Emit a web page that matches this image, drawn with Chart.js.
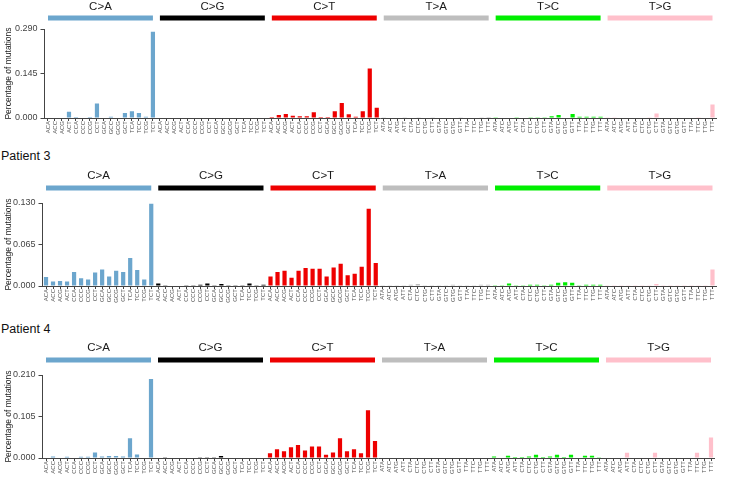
<!DOCTYPE html>
<html>
<head>
<meta charset="utf-8">
<script src="https://cdn.jsdelivr.net/npm/chart.js@4.4.0/dist/chart.umd.min.js"></script>
<style>
    body { margin: 0; background: #fff; }
    #wrap { position: relative; width: 730px; height: 481px; overflow: hidden; font-family: "Liberation Sans", Arial, sans-serif; }
    canvas { position: absolute; left: 0; }
    .title { position: absolute; left: 1px; font-size: 12.5px; color: #111; }
</style>
</head>
<body>
<div id="wrap">
    <canvas id="panel1" width="730" height="140" style="top:0px"></canvas>
    <div class="title" style="top:149px">Patient 3</div>
    <canvas id="panel2" width="730" height="140" style="top:168px"></canvas>
    <div class="title" style="top:322px">Patient 4</div>
    <canvas id="panel3" width="730" height="141" style="top:339px"></canvas>
</div>
<script>
// Mutation types and their colours
const mutationTypes = ['C>A', 'C>G', 'C>T', 'T>A', 'T>C', 'T>G'];
const typeColors = ['#6CA6CD', '#000000', '#EE0000', '#BEBEBE', '#00EE00', '#FFC0CB'];

// Trinucleotide contexts (16 per mutation type)
const cContexts = ['ACA','ACC','ACG','ACT','CCA','CCC','CCG','CCT','GCA','GCC','GCG','GCT','TCA','TCC','TCG','TCT'];
const tContexts = ['ATA','ATC','ATG','ATT','CTA','CTC','CTG','CTT','GTA','GTC','GTG','GTT','TTA','TTC','TTG','TTT'];
const tickLabels = [...cContexts, ...cContexts, ...cContexts, ...tContexts, ...tContexts, ...tContexts];

// Values, rows in order C>A, C>G, C>T, T>A, T>C, T>G
const panelTop = [
    0.000, 0.002, 0.000, 0.020, 0.003, 0.002, 0.003, 0.047, 0.000, 0.004, 0.000, 0.016, 0.022, 0.016, 0.004, 0.281,
    0, 0, 0, 0, 0, 0, 0, 0, 0, 0, 0, 0, 0, 0, 0, 0,
    0.003, 0.010, 0.013, 0.007, 0.006, 0.006, 0.019, 0.003, 0.003, 0.022, 0.049, 0.012, 0.004, 0.022, 0.161, 0.033,
    0.001, 0, 0, 0.001, 0, 0.001, 0, 0.001, 0, 0, 0, 0.001, 0, 0, 0.001, 0.003,
    0.001, 0.002, 0.002, 0.001, 0, 0.001, 0.001, 0.001, 0.006, 0.010, 0.002, 0.013, 0.004, 0.004, 0.004, 0.004,
    0.001, 0.001, 0, 0.002, 0, 0, 0.001, 0.015, 0, 0, 0, 0, 0, 0.001, 0.002, 0.044
];
const patient3 = [
    0.014, 0.007, 0.008, 0.007, 0.022, 0.012, 0.010, 0.021, 0.026, 0.015, 0.024, 0.022, 0.044, 0.025, 0.010, 0.129,
    0.004, 0.001, 0, 0, 0.001, 0.001, 0.002, 0.004, 0.001, 0.003, 0.001, 0.001, 0.001, 0.004, 0.001, 0.002,
    0.015, 0.022, 0.024, 0.013, 0.024, 0.028, 0.027, 0.027, 0.015, 0.029, 0.035, 0.017, 0.019, 0.030, 0.121, 0.036,
    0.001, 0.001, 0.001, 0.001, 0.002, 0.003, 0.001, 0.001, 0.001, 0.001, 0.002, 0.001, 0.001, 0.001, 0.002, 0.002,
    0.001, 0.001, 0.004, 0.001, 0.001, 0.002, 0.002, 0.001, 0.002, 0.005, 0.006, 0.005, 0.001, 0.002, 0.002, 0.002,
    0.001, 0.001, 0.001, 0.001, 0.001, 0.001, 0.001, 0.003, 0.001, 0.001, 0.001, 0.001, 0.001, 0.001, 0.001, 0.026
];
const patient4 = [
    0, 0.004, 0, 0.003, 0, 0.003, 0.003, 0.014, 0.004, 0.005, 0.005, 0.004, 0.050, 0.009, 0, 0.200,
    0, 0.002, 0, 0, 0, 0, 0.002, 0.002, 0.002, 0.005, 0, 0, 0, 0, 0, 0,
    0.012, 0.022, 0.017, 0.027, 0.033, 0.019, 0.029, 0.029, 0.008, 0.014, 0.050, 0.017, 0.022, 0.012, 0.121, 0.043,
    0, 0, 0, 0, 0, 0, 0.001, 0, 0, 0, 0.001, 0, 0, 0.001, 0, 0,
    0.004, 0.001, 0.006, 0.0025, 0.0025, 0.004, 0.0085, 0.0025, 0.004, 0.0085, 0.0025, 0.0085, 0.001, 0.006, 0.006, 0.002,
    0, 0, 0, 0.013, 0, 0, 0, 0.013, 0, 0, 0, 0, 0, 0.013, 0, 0.052
];
const yMax = [0.290, 0.130, 0.210];

// Draws the coloured mutation-type strips with their names above the plot
const typeHeader = {
    id: 'typeHeader',
    afterDraw(chart, args, opts) {
        const ctx = chart.ctx;
        const x = chart.scales.x;
        const top = chart.chartArea.top;
        ctx.save();
        mutationTypes.forEach((name, g) => {
            const x1 = x.getPixelForValue(g * 16);
            const x2 = x.getPixelForValue(g * 16 + 15);
            ctx.fillStyle = typeColors[g];
            ctx.fillRect(x1, top - opts.barOffset - 2.5, x2 - x1, 5);
            ctx.fillStyle = '#1a1a1a';
            ctx.font = '11.5px "Liberation Sans", Arial, sans-serif';
            ctx.textAlign = 'center';
            ctx.textBaseline = 'middle';
            ctx.fillText(name, (x1 + x2) / 2, top - opts.textOffset);
        });
        ctx.restore();
    }
};

function makePanel(id, values, max, area, header) {
    const canvas = document.getElementById(id);
    const barColors = tickLabels.map((_, i) => typeColors[Math.floor(i / 16)]);
    return new Chart(canvas, {
        type: 'bar',
        data: {
            labels: tickLabels,
            datasets: [{
                data: values,
                backgroundColor: barColors,
                barPercentage: 0.6,
                categoryPercentage: 1
            }]
        },
        options: {
            responsive: false,
            animation: false,
            layout: { padding: { top: area.top, right: 730 - area.right, left: 0, bottom: 0 } },
            plugins: {
                legend: { display: false },
                tooltip: { enabled: false },
                typeHeader: header
            },
            scales: {
                x: {
                    offset: true,
                    grid: { display: true, drawOnChartArea: false, offset: false, tickLength: 3, color: '#444' },
                    border: { color: '#444' },
                    ticks: {
                        autoSkip: false, minRotation: 90, maxRotation: 90, padding: 0,
                        color: '#555', font: { size: 6, family: '"Liberation Sans", Arial' }
                    },
                    afterFit(scale) { scale.height = 22; }
                },
                y: {
                    min: 0,
                    max: max,
                    grid: { drawOnChartArea: false, tickLength: 4, color: '#444' },
                    border: { color: '#444' },
                    ticks: {
                        padding: 3, color: '#444',
                        font: { size: 9, family: '"Liberation Sans", Arial' },
                        callback: v => v.toFixed(3)
                    },
                    afterBuildTicks(scale) {
                        scale.ticks = [{ value: 0 }, { value: max / 2 }, { value: max }];
                    },
                    title: {
                        display: true, text: 'Percentage of mutations', color: '#222',
                        font: { size: 8.5, family: '"Liberation Sans", Arial' },
                        padding: { top: 4, bottom: 2 }
                    },
                    afterFit(scale) { scale.width = area.left; }
                }
            }
        },
        plugins: [typeHeader]
    });
}

makePanel('panel1', panelTop, yMax[0], { top: 29, left: 44.5, right: 716 }, { barOffset: 11, textOffset: 22 });
makePanel('panel2', patient3, yMax[1], { top: 35, left: 42.5, right: 716 }, { barOffset: 15, textOffset: 27 });
makePanel('panel3', patient4, yMax[2], { top: 36, left: 42.5, right: 714.5 }, { barOffset: 15, textOffset: 27 });
</script>
</body>
</html>
